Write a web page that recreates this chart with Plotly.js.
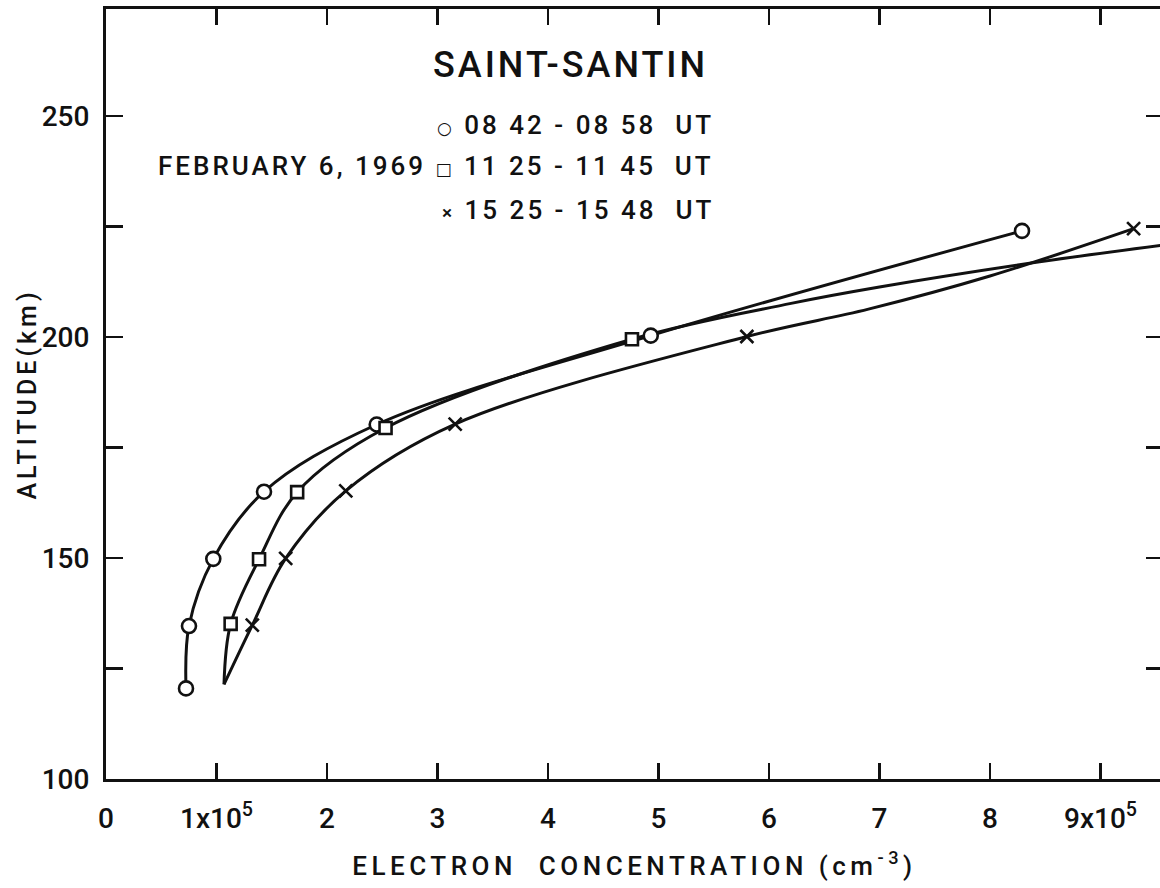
<!DOCTYPE html>
<html>
<head>
<meta charset="utf-8">
<script src="https://cdn.plot.ly/plotly-3.0.1.min.js"></script>
<style>
  html, body { margin: 0; padding: 0; background: #fff; overflow: hidden; }
  #chart { width: 1166px; height: 888px; }
  .xtitle { letter-spacing: 4.5px; }
  .ytitle { letter-spacing: 4px; translate: 9px 0; }
  .annotation-text { letter-spacing: 3px; }
</style>
</head>
<body>
<div id="chart"></div>
<script>
// ---- Data (x in units of 1e5 cm^-3, y in km) ----
// 08 42 - 08 58 UT (circles)
const circleX = [0.724, 0.751, 0.971, 1.43, 2.45, 4.93, 8.29];
const circleY = [120.5, 134.6, 149.8, 165.0, 180.2, 200.3, 224.0];
const circleCurveX = [0.724, 0.751, 0.971, 1.43, 2.45, 4.93, 8.29];
const circleCurveY = [120.5, 134.6, 149.8, 165.0, 180.2, 200.3, 224.0];

// 11 25 - 11 45 UT (squares)
const squareX = [1.128, 1.385, 1.73, 2.53, 4.76];
const squareY = [135.1, 149.7, 164.9, 179.4, 199.5];
const squareCurveX = [1.068, 1.128, 1.385, 1.73, 2.53, 4.76, 6.2, 7.0, 8.45, 9.6];
const squareCurveY = [121.4, 135.1, 149.7, 164.9, 179.4, 199.5, 207.6, 211.3, 217.0, 220.9];

// 15 25 - 15 48 UT (crosses)
const crossX = [1.324, 1.626, 2.17, 3.16, 5.80, 9.30];
const crossY = [134.8, 149.9, 165.2, 180.3, 200.1, 224.5];
const crossCurveX = [1.068, 1.324, 1.626, 2.17, 3.16, 5.80, 6.9, 8.0, 9.30];
const crossCurveY = [121.4, 134.8, 149.9, 165.2, 180.3, 200.1, 206.3, 213.8, 224.5];

// Axis ticks
const xTickVals = [0, 1, 2, 3, 4, 5, 6, 7, 8, 9];
const xTickText = ['0', '1x10<sup>5</sup>', '2', '3', '4', '5', '6', '7', '8', '9x10<sup>5</sup>'];
const yTickVals = [100, 150, 200, 250];
const yTickText = ['100', '150', '200', '250'];
const yMinorTickVals = [125, 175, 225];

// Text
const stationName = 'SAINT-SANTIN';
const dateText = 'FEBRUARY 6, 1969';
const seriesLabels = ['08 42 - 08 58  UT', '11 25 - 11 45  UT', '15 25 - 15 48  UT'];

const FONT = 'Roboto, DejaVu Sans, sans-serif';
const BLACK = '#111';

function curve(x, y) {
  return { x: x, y: y, type: 'scatter', mode: 'lines',
    line: { color: BLACK, width: 3, shape: 'spline', smoothing: 1 },
    hoverinfo: 'skip', showlegend: false };
}
function markers(x, y, symbol, size) {
  return { x: x, y: y, type: 'scatter', mode: 'markers',
    marker: { symbol: symbol, size: size, color: symbol.indexOf('x') === 0 ? BLACK : '#fff',
      line: { color: BLACK, width: 2.6 } },
    showlegend: false };
}

const traces = [
  curve(circleCurveX, circleCurveY),
  curve(squareCurveX, squareCurveY),
  curve(crossCurveX, crossCurveY),
  markers(circleX, circleY, 'circle', 14),
  markers(squareX, squareY, 'square', 12),
  markers(crossX, crossY, 'x-thin', 13)
];

const annFont = { family: FONT, size: 26, color: BLACK, weight: 500 };
const layout = {
  width: 1166, height: 888,
  margin: { l: 106, r: 3, t: 9, b: 109 },
  paper_bgcolor: '#fff', plot_bgcolor: '#fff',
  font: { family: FONT, color: BLACK, weight: 500 },
  xaxis: {
    range: [0, 9.566], showgrid: false, zeroline: false,
    showline: true, linecolor: BLACK, linewidth: 3, mirror: 'ticks',
    ticks: 'inside', ticklen: 16, tickwidth: 2.5, tickcolor: BLACK,
    tickvals: xTickVals, ticktext: xTickText,
    tickfont: { family: FONT, size: 28, color: BLACK, weight: 500 },
    ticklabelstandoff: 12,
    title: { text: 'ELECTRON  CONCENTRATION (cm<sup>-3</sup>)', font: { family: FONT, size: 26, color: BLACK, weight: 500 }, standoff: 24 }
  },
  yaxis: {
    range: [100, 274.2], showgrid: false, zeroline: false,
    showline: true, linecolor: BLACK, linewidth: 3, mirror: 'ticks',
    ticks: 'inside', ticklen: 17, tickwidth: 2.5, tickcolor: BLACK,
    tickvals: yTickVals, ticktext: yTickText,
    minor: { tickvals: yMinorTickVals, ticks: 'inside', ticklen: 17, tickwidth: 2.5, tickcolor: BLACK, showgrid: false },
    tickfont: { family: FONT, size: 28, color: BLACK, weight: 500 },
    ticklabelstandoff: 8,
    title: { text: 'ALTITUDE(km)', font: { family: FONT, size: 25, color: BLACK, weight: 500 }, standoff: 2 }
  },
  annotations: [
    { xref: 'x', yref: 'y', x: 4.2, y: 261.5, text: stationName, showarrow: false,
      xanchor: 'center', yanchor: 'middle', font: { family: FONT, size: 36, color: BLACK, weight: 500 } },
    { xref: 'x', yref: 'y', x: 5.52, y: 248.0, showarrow: false, xanchor: 'right', yanchor: 'middle',
      text: '<span style="font-size:17px">○</span> ' + seriesLabels[0], font: annFont },
    { xref: 'x', yref: 'y', x: 5.52, y: 238.7, showarrow: false, xanchor: 'right', yanchor: 'middle',
      text: dateText + ' <span style="font-size:17px">□</span> ' + seriesLabels[1], font: annFont },
    { xref: 'x', yref: 'y', x: 5.52, y: 228.8, showarrow: false, xanchor: 'right', yanchor: 'middle',
      text: '<span style="font-size:19px">×</span> ' + seriesLabels[2], font: annFont }
  ]
};

Plotly.newPlot('chart', traces, layout, { displayModeBar: false, staticPlot: true });
</script>
</body>
</html>
